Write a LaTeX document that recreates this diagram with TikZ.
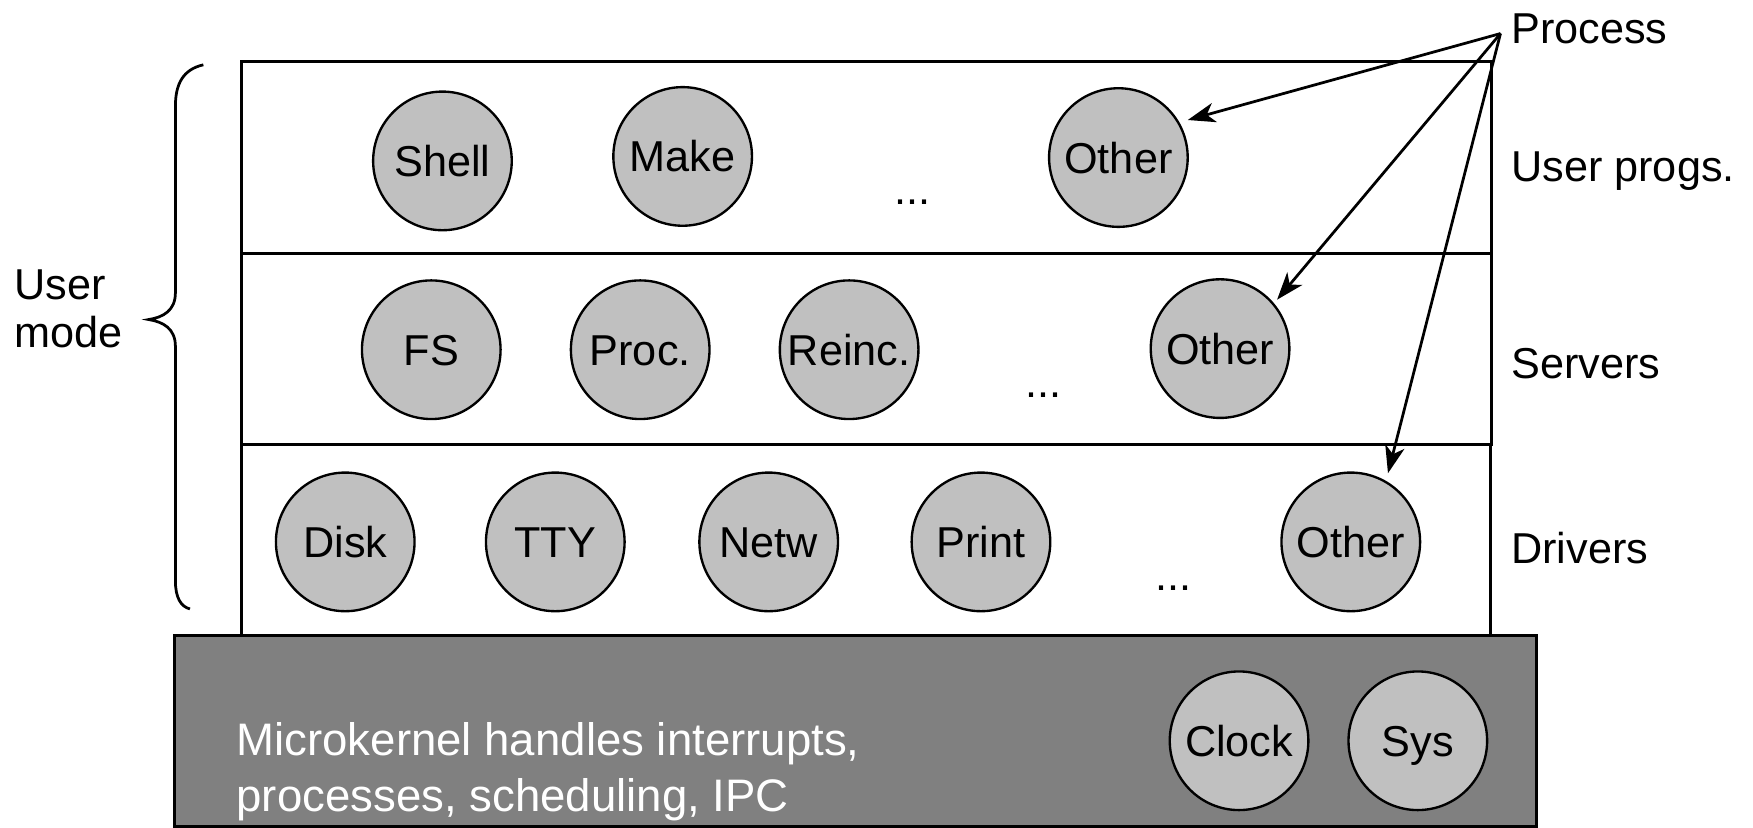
\documentclass[tikz,border=0pt]{standalone}
\usepackage{fontspec}
\setmainfont{Liberation Sans}
\usetikzlibrary{arrows.meta}
\definecolor{kern}{HTML}{808080}
\definecolor{proc}{HTML}{C0C0C0}
\begin{document}
\begin{tikzpicture}[x=0.01cm,y=-0.01cm,
  layerbox/.style={draw=black,line width=0.8pt,fill=white},
  pc/.style={circle,draw=black,line width=0.6pt,fill=proc,minimum size=1.24cm,inner sep=0pt,
    font=\fontsize{11}{13}\selectfont,text height=7.9pt,text depth=0pt},
  lbl/.style={anchor=base west,inner sep=0pt,font=\fontsize{11}{13}\selectfont},
  klbl/.style={anchor=base west,inner sep=0pt,text=white,font=\fontsize{11.6}{14}\selectfont},
  dotsl/.style={inner sep=0pt,font=\fontsize{11}{13}\selectfont},
  arr/.style={line width=0.7pt,-{Stealth[length=7pt,width=5pt,inset=2pt]}}]
\useasboundingbox (0,0) rectangle (1569,741);
% layers
\draw[layerbox] (216,55) rectangle (1335,227);
\draw[layerbox] (216,227) rectangle (1335,398);
\draw[layerbox] (216,398) rectangle (1334,569);
\draw[line width=0.8pt,fill=kern] (156,569) rectangle (1375,740);
% user programs
\node[pc] (shell) at (396,144) {Shell};
\node[pc] (make) at (611,140) {Make};
\node[pc] (o1) at (1001,141) {Other};
\node[dotsl] (d1) at (817,181) {...};
% servers
\node[pc] (fs) at (386,313) {FS};
\node[pc] (pr) at (573,313) {Proc.};
\node[pc] (re) at (760,313) {Reinc.};
\node[pc] (o2) at (1092,312) {Other};
\node[dotsl] (d2) at (934,354) {...};
% drivers
\node[pc] (disk) at (309,485) {Disk};
\node[pc] (tty) at (497,485) {TTY};
\node[pc] (netw) at (688,485) {Netw};
\node[pc] (print) at (878,485) {Print};
\node[pc] (o3) at (1209,485) {Other};
\node[dotsl] (d3) at (1050,526) {...};
% kernel
\node[pc] (clock) at (1109,663) {Clock};
\node[pc] (sys) at (1269,663) {Sys};
\node[klbl] (kt1) at (211,676) {Microkernel handles interrupts,};
\node[klbl] (kt2) at (211,726) {processes, scheduling, IPC};
% right labels
\node[lbl] (lp) at (1352,39) {Process};
\node[lbl] (lu) at (1352,162) {User progs.};
\node[lbl] (ls) at (1352,339) {Servers};
\node[lbl] (ld) at (1352,504) {Drivers};
% user mode
\node[lbl] (um1) at (12,268) {User};
\node[lbl] (um2) at (12,311) {mode};
\draw[line width=0.7pt] (182,58) .. controls (164,62) and (157,75) .. (157,95)
  -- (157,262) .. controls (157,278) and (146,284) .. (133,286)
  .. controls (146,288) and (157,294) .. (157,310)
  -- (157,520) .. controls (157,535) and (162,543) .. (170,545);
% arrows
\coordinate (src) at (1343,30);
\draw[arr,shorten >=2.2pt] (src) -- (o1.30);
\draw[arr,shorten >=1.2pt] (src) -- (o2.40);
\draw[arr,shorten >=2pt] (src) -- (o3.60);
\end{tikzpicture}
\end{document}
